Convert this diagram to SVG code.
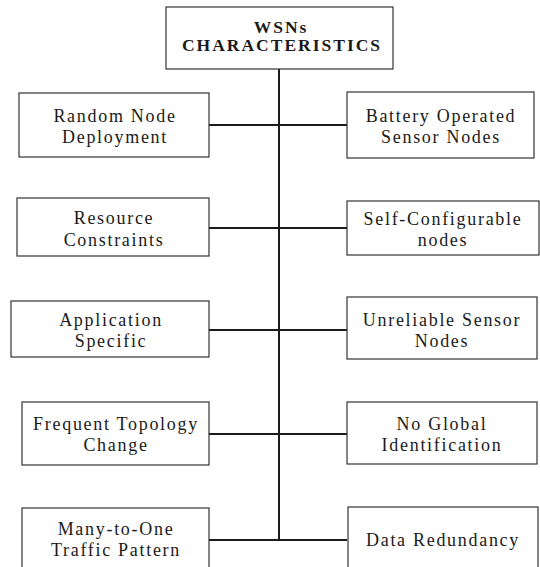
<svg xmlns="http://www.w3.org/2000/svg" width="540" height="567" viewBox="0 0 540 567">
  <style>
    .box { fill: #ffffff; stroke: #333333; stroke-width: 1.2; }
    text { font-family: 'Liberation Serif', 'Times New Roman', 'DejaVu Serif', serif; fill: #1a1a1a; text-anchor: middle; }
    .lbl { font-size: 18px; letter-spacing: 1.7px; }
    .title { font-size: 17.5px; font-weight: bold; letter-spacing: 2px; }
    .wire { stroke: #1a1a1a; stroke-width: 2; fill: none; }
  </style>
  <rect width="540" height="567" fill="#ffffff"/>

  <!-- connectors: central trunk and branches -->
  <g id="connectors">
    <line class="wire" x1="279" y1="69" x2="279" y2="540"/>
    <line class="wire" x1="209" y1="125" x2="347" y2="125"/>
    <line class="wire" x1="209" y1="228" x2="347" y2="228"/>
    <line class="wire" x1="209" y1="330" x2="347" y2="330"/>
    <line class="wire" x1="209" y1="434" x2="347" y2="434"/>
    <line class="wire" x1="209" y1="540" x2="347" y2="540"/>
  </g>

  <g id="title">
    <rect class="box" x="166" y="7" width="227" height="62"/>
    <text class="title" x="281" y="33">WSNs</text>
    <text class="title" x="282" y="51">CHARACTERISTICS</text>
  </g>

  <!-- left column -->
  <g id="random-node-deployment">
    <rect class="box" x="19" y="93" width="190" height="64"/>
    <text class="lbl" x="115" y="122">Random Node</text>
    <text class="lbl" x="115" y="143">Deployment</text>
  </g>
  <g id="resource-constraints">
    <rect class="box" x="17" y="198" width="192" height="58"/>
    <text class="lbl" x="114" y="224">Resource</text>
    <text class="lbl" x="114" y="246">Constraints</text>
  </g>
  <g id="application-specific">
    <rect class="box" x="11" y="301" width="198" height="56"/>
    <text class="lbl" x="111" y="326">Application</text>
    <text class="lbl" x="111" y="347">Specific</text>
  </g>
  <g id="frequent-topology-change">
    <rect class="box" x="22" y="402" width="187" height="63"/>
    <text class="lbl" x="116" y="430">Frequent Topology</text>
    <text class="lbl" x="116" y="451">Change</text>
  </g>
  <g id="many-to-one">
    <rect class="box" x="22" y="508" width="187" height="64"/>
    <text class="lbl" x="116" y="535">Many-to-One</text>
    <text class="lbl" x="116" y="556">Traffic Pattern</text>
  </g>

  <!-- right column -->
  <g id="battery-operated">
    <rect class="box" x="347" y="92" width="187" height="66"/>
    <text class="lbl" x="441" y="122">Battery Operated</text>
    <text class="lbl" x="441" y="143">Sensor Nodes</text>
  </g>
  <g id="self-configurable">
    <rect class="box" x="347" y="201" width="192" height="54"/>
    <text class="lbl" x="443" y="225">Self-Configurable</text>
    <text class="lbl" x="443" y="246">nodes</text>
  </g>
  <g id="unreliable-sensor-nodes">
    <rect class="box" x="347" y="297" width="190" height="62"/>
    <text class="lbl" x="442" y="326">Unreliable Sensor</text>
    <text class="lbl" x="442" y="347">Nodes</text>
  </g>
  <g id="no-global-identification">
    <rect class="box" x="347" y="402" width="190" height="62"/>
    <text class="lbl" x="442" y="430">No Global</text>
    <text class="lbl" x="442" y="451">Identification</text>
  </g>
  <g id="data-redundancy">
    <rect class="box" x="348" y="507" width="190" height="65"/>
    <text class="lbl" x="443" y="546">Data Redundancy</text>
  </g>
</svg>
